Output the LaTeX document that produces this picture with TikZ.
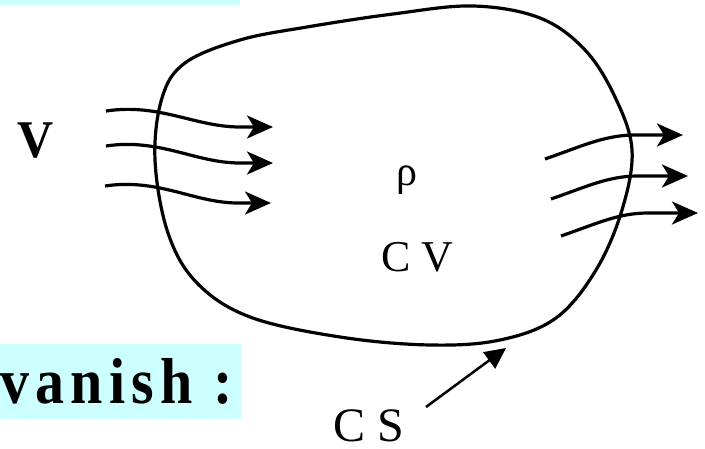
\documentclass[tikz,border=0pt]{standalone}
\usepackage{fontspec}
\setmainfont{Liberation Serif}
\usetikzlibrary{arrows.meta}
\definecolor{boxcyan}{RGB}{204,255,255}
\tikzset{
  flow/.style={line width=3.2pt, -{Stealth[length=26pt,width=23pt,inset=7pt]}},
  csline/.style={line width=3.2pt},
  pointer/.style={line width=2.5pt, -{Triangle[length=21pt,width=20pt]}},
  lbl/.style={inner sep=0pt, outer sep=0pt}
}
\begin{document}
\begin{tikzpicture}[x=1pt,y=-1pt]
\useasboundingbox (0,0) rectangle (705,449);
% cyan bands
\fill[boxcyan] (0,0) rectangle (240,5);
\fill[boxcyan] (0,344) rectangle (241,419);
% control surface
\draw[csline] plot[smooth cycle, tension=0.6] coordinates {
 (393,14) (473,6) (540,18) (585,50) (615,97) (632,150)
 (622,210) (596,270) (556,318) (500,340) (430,345) (340,337) (250,317)
 (197,283) (168,233) (155,160) (162,98) (185,63) (240,40) (307,27)};
% texts
\node[lbl, anchor=base west] (V) at (17,158) {\fontsize{50}{52}\selectfont\scalebox{1}[1.06]{\textbf{V}}};
\node[lbl] (rho) at (407,180) {\fontsize{42}{44}\selectfont ρ};
\node[lbl, anchor=base west] (CV) at (381,272) {\fontsize{44}{46}\selectfont C V};
\node[lbl, anchor=base west, text depth=0pt] (CS) at (333,441) {\fontsize{48}{50}\selectfont C S};
\node[lbl, anchor=base west, text depth=0pt] (van) at (0,403) {\fontsize{58}{60}\selectfont\scalebox{1}[1.12]{\addfontfeature{LetterSpace=11}\textbf{vanish :}}};
% inflow arrows
\coordinate (a1s) at (106,111); \coordinate (a1t) at (273,127);
\coordinate (a2s) at (106,146); \coordinate (a2t) at (273,163);
\coordinate (a3s) at (105,186); \coordinate (a3t) at (271,203);
\draw[flow] (a1s) .. controls (160,103) and (195,127) .. (240,127) -- (a1t);
\draw[flow] (a2s) .. controls (160,138) and (195,163) .. (240,163) -- (a2t);
\draw[flow] (a3s) .. controls (159,178) and (194,203) .. (238,203) -- (a3t);
% outflow arrows
\coordinate (b1s) at (545,159); \coordinate (b1t) at (683,135);
\coordinate (b2s) at (551,199); \coordinate (b2t) at (688,176);
\coordinate (b3s) at (561,236); \coordinate (b3t) at (698,213);
\draw[flow] (b1s) .. controls (580,147) and (602,136) .. (632,135) -- (b1t);
\draw[flow] (b2s) .. controls (586,187) and (608,176) .. (638,176) -- (b2t);
\draw[flow] (b3s) .. controls (596,224) and (618,213) .. (648,213) -- (b3t);
% CS pointer
\coordinate (cst) at (506,348);
\draw[pointer] (426,407) -- (cst);
\end{tikzpicture}
\end{document}
